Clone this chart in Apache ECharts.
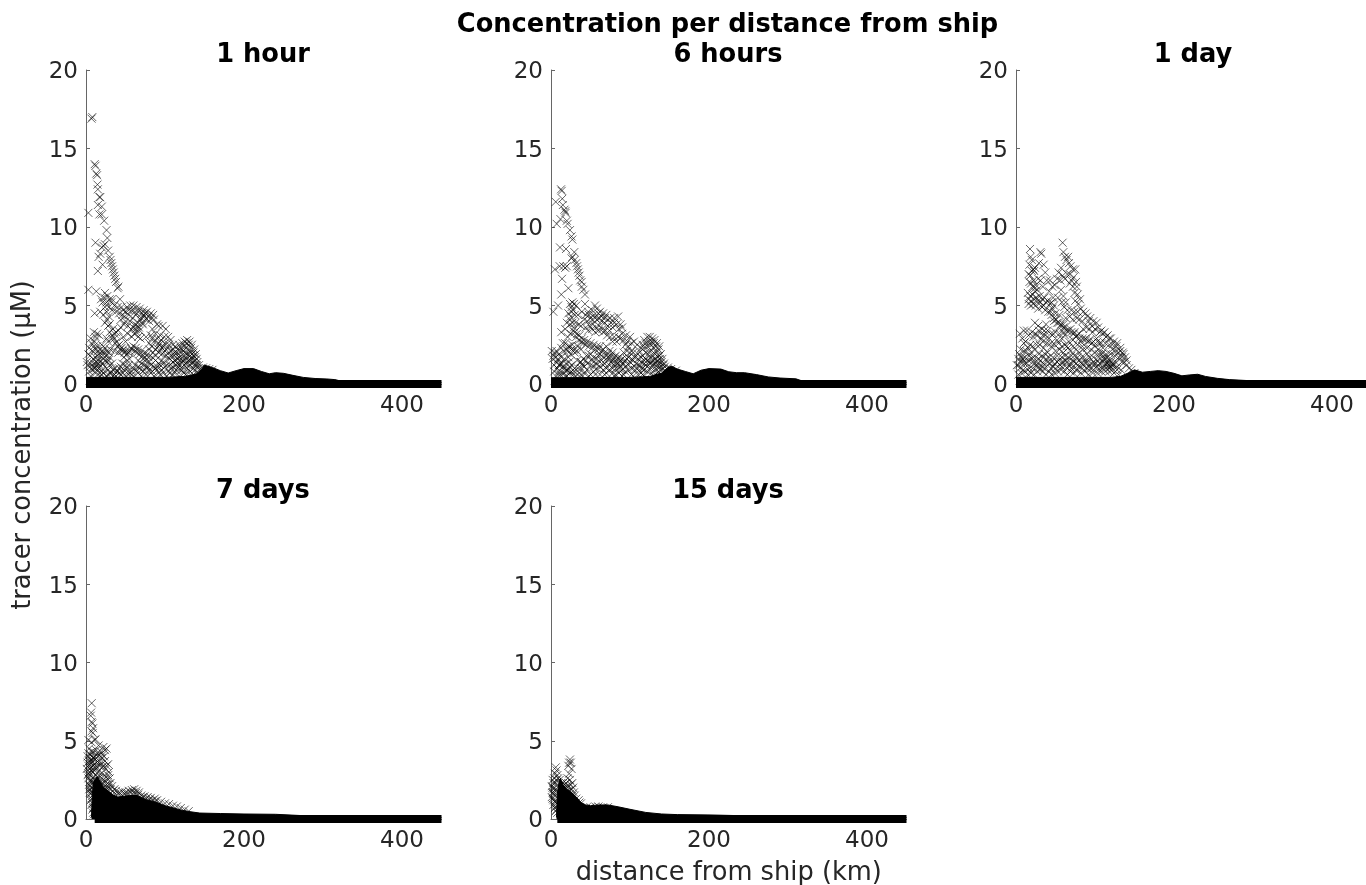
<!DOCTYPE html>
<html><head><meta charset="utf-8"><style>html,body{margin:0;padding:0;background:#fff}#c{width:1366px;height:885px}</style>
<script src="https://cdn.jsdelivr.net/npm/echarts@6/dist/echarts.min.js"></script></head><body><div id="c"></div><script>
const mainTitle='Concentration per distance from ship';
const panelTitles=['1 hour','6 hours','1 day','7 days','15 days'];
const xTicks=[0,200,400];
const yTicks=[0,5,10,15,20];
// [distance km, concentration µM]
const hour1=[[7,16.9],[8,17],[11,14],[12,13.9],[13,13.4],[14,13.3],[14.5,12.7],[15,12.4],[17,11.9],[18,11.9],[15,11.4],[20,11.3],[3,10.9],[17,10.8],[20,10.8],[23,10.4],[26,9.8],[27,9.3],[12,9],[24,8.9],[22,8.8],[20,8.7],[18,8.3],[16,8.1],[28,8.5],[30,8.1],[31,7.9],[32,7.7],[33,7.5],[34,7.3],[35,7.1],[36,6.9],[37,6.7],[38,6.5],[40,6.1],[41,6.2],[15,7.2],[21,7.6],[3,6],[13,5.9],[24,5.8],[27,5.6],[30,5.4],[33,5.4],[43,5.4],[32,5.2],
[21,5.2],[24,4.9],[18,4.6],[11,4.5],[22,4.4],[26,4.6],[29,4.3],[38,4.6],[42,4.5],[47,4.7],[52,4.9],[56,5],[60,5],[64,4.9],[68,4.8],[73,4.7],[77,4.6],[82,4.5],[85,4.4],
[44,4.1],[49,4.3],[54,4.4],[59,4.2],[63,4.4],[69,4.1],[74,4.3],[80,4],[86,4.1],[90,3.8],[24,3.9],[28,3.7],[48,3.8],[53,3.7],[57,3.5],[62,3.8],[67,3.6],[72,3.8],[84,3.5],[92,3.7],[97,3.7],[101,3.5],
[10,3.3],[14,3.2],[17,3.1],[6,2.9],[11,2.7],[30,3.3],[33,3.1],[36,2.9],[39,2.7],[42,2.5],[45,2.3],[47,2.2],[50,2.1],[53,3.2],[58,3],[61,3.2],[64,3.3],[66,3],[69,2.9],[76,3],[82,3.1],[88,3.2],[94,3.1],[99,3],[104,3],[107,2.8],[110,2.5],[26,2.9],[28,2.7],[36,3.2],[47,3],[50,2.7],
[4,2.3],[8,2.1],[3,1.9],[14,2.4],[20,2.5],[24,2.3],[31,2.2],[36,2.1],[41,2],[54,2],[57,2.3],[60,2.4],[63,2.3],[66,2.2],[70,2.1],[74,2],[78,1.9],[83,2.4],[88,2.2],[93,2.5],[98,2.4],[103,2.3],[108,2.1],[113,2.4],[118,2.5],[122,2.6],[125,2.7],[128,2.8],[131,2.7],[134,2.5],[137,2.2],[139,1.9],[112,2],[117,1.9],[123,2.1],[127,2.3],[132,2.1],
[1,1.4],[2,1.2],[6,1.3],[10,1.3],[13,1.4],[15,1.5],[18,1.5],[22,1.6],[26,1.8],[30,1.7],[33,1.3],[37,1],[44,1.1],[48,1.7],[52,1.5],[55,1.6],[60,1],[66,1.5],[72,1.6],[76,1.5],[80,1.4],[84,1.7],[88,1.5],[92,1.3],[96,1.5],[106,1.6],[110,1.4],[114,1.5],[118,1.7],[122,1.4],[126,1.6],[130,1.5],[134,1.6],[138,1.5],[141,1.4],[143,1.2],
[4,.8],[8,.9],[12,.7],[16,1],[20,.8],[24,1.1],[28,.9],[32,.7],[36,.6],[40,.8],[44,.6],[48,.9],[52,1],[56,.7],[60,.5],[64,.9],[68,1],[72,.8],[76,1.1],[80,.9],[84,.8],[88,1],[92,.7],[96,.9],[100,1.1],[104,.8],[108,1],[112,.7],[116,1],[120,.9],[124,.7],[128,1],[132,.8],[136,1],[140,.7],[6,.5],[18,.5],[26,.5],[34,.5],[50,.5],[70,.5],[86,.5],[102,.5],[118,.5],[134,.5]];
const hour1More=[[19,5.4],[23,5.5],[26,5.2],[29,4.9],[36,5],[33,4.7],[40,4.9],[45,4.9],[50,4.6],[54,4.7],[58,4.7],[62,4.6],[66,4.6],[71,4.5],[75,4.5],[79,4.3],[83,4.2],[60,3.6],[63,3.5],[66,3.9],[70,4.2],[73,4.4],[76,4.1],[71,3.9],[68,3.4],[65,3.7],[46,4.4],[50,4],[56,4],[44,3.6],[41,3.4],[38,3.3],[34,3.5],[30,3.8],[27,4.1],[33,2.9],[37,2.6],[40,2.4],[43,2.2],[46,2.1],[49,2],[52,1.9],[55,2.1],[58,2.2],[62,2.1],[65,2],[68,1.9],[72,1.8],[75,1.7],[79,1.7],[90,2.9],[95,2.8],[100,2.6],[105,2.5],[92,2.6],[96,2.3],[86,2.7],[80,2.6],[84,2.9],[10,2.4],[7,2.6],[12,3],[5,1.8],[9,1.6],[12,1.7],[16,1.9],[11,1],[14,1.2],[16,1.3],[18,1.1],[21,1.3],[24,1.5],[27,1.4],[30,1.2],[34,.9],[38,.8],[42,1],[46,1.3],[50,1.2],[54,1.2],[58,.8],[62,1.2],[66,1.1],[70,1.3],[74,1.2],[78,1.1],[82,1.2],[86,1.1],[90,1.1],[94,1.2],[98,1.3],[102,1.2],[106,1.2],[110,1.1],[114,1.2],[118,1.2],[122,1.1],[126,1.3],[130,1.2],[134,1.3],[138,1.2],[142,1],[116,2.2],[120,2.3],[124,2.4],[127,2.6],[130,2.5],[133,2.3],[136,2],[138,1.7],[140,1.6],[108,1.8],[112,1.8],[116,1.6],[120,1.6],[124,1.8],[128,1.9],[132,1.8],[136,1.8],[104,1.7],[100,1.8],[96,1.9],[92,2],[88,1.8],[145,1],[148,1.05],[152,1],[156,.95],[160,.9],[20,.6],[28,.6],[38,.5],[56,.5],[76,.6],[94,.6],[110,.6],[126,.6],
[5,1.1],[9,1.1],[13,1],[17,.7],[22,.7],[30,.7],[42,.7],[47,.7],[53,.8],[66,.7],[74,.9],[82,.7],[90,.9],[98,.7],[106,.7],[114,.9],[122,.9],[130,.9],[138,.9],[15,1.8],[20,1.9],[23,1.9],[28,1.5],[12,2.2],[15,2.1],[18,2.2],[22,2.1],[26,2.1],[29,2],[80,2.2],[85,2],[90,2.3],[95,2.2],[100,2.1],[105,2],[110,2.2],[115,2],[120,2.1],[125,2],[130,1.9],[134,1.9],[112,1.5],[116,1.3],[120,1.4],[124,1.5],[128,1.4],[132,1.5],[136,1.4],[140,1.2]];
const hour6=[[12.7,12.4],[13.5,12.3],[6,11.6],[14.3,11.8],[15,11.4],[17,11.1],[18,11],[18.5,10.9],[7.2,10.2],[12,10.5],[20,10.4],[21,10.2],[24,9.8],[26,9.4],[27,9.2],[11.4,8.7],[19,8.6],[29.5,8.4],[26,8],[27,8.1],[5,7.3],[11,7.5],[15.6,7.5],[18,7.4],[20,7.5],[30,7.9],[32,7.7],[33,7.5],[34,7.3],[35,7.1],[36,6.9],[37,6.6],[14,6.7],[38.8,6.5],[39,6.2],[41,6],[22,6.1],[13,5.7],[43,5.7],[9,5],[3,4.6],[27,5.2],[29,5.1],[32,5],[26,4.9],[43,5.1],
[22,4.5],[28,4.7],[25,4.3],[34,4.4],[39,4.6],[47,4.6],[52,4.7],[55.7,5],[58,4.8],[62,4.6],[66,4.5],[70,4.4],[75,4.2],[80,4.2],[85,4.3],[20,3.9],[24,3.8],[13,3.3],[18,3.5],[29,3.6],[42,4.1],[46,4],[50,4.2],[54,4.4],[58,4.1],[61,4.2],[64,4],[68,3.9],[72,3.7],[78,3.6],[83,3.8],[88,3.8],[90,3.6],[38,3.7],
[15,2.6],[21,3],[25,3.2],[30,3.3],[33,3.2],[36,3.1],[39,2.9],[42,2.8],[46,2.7],[50,2.6],[54,2.5],[58,2.4],[62,2.4],[47,3.4],[52,3.5],[56,3.3],[60,3.4],[66,3.3],[71,3.1],[75,3],[80,3],[85,3],[90,3.2],[95,3.1],[100,3],[105,2.7],[109,2.5],[118,2.8],[122,3],[125,3],[128,2.9],[131,2.8],[134,2.6],[137,2.4],[139,1.9],[141,1.6],[143,1.3],
[1,2.1],[3,1.8],[5,2],[7,2.1],[10,1.9],[13,1.7],[17,1.6],[21,2.1],[24,2.4],[27,2.5],[34,2.4],[38,2.2],[66,2.2],[70,2.4],[74,2.1],[78,2],[82,1.8],[86,1.7],[90,1.6],[94,2.5],[98,2.4],[102,2.1],[114,2.3],[118,2.3],[122,2.4],[126,2.5],[130,2.3],[134,2],[137,1.8],[110,1.9],[114,1.7],[118,1.5],[123,1.9],[128,1.8],[132,1.6],
[4,.8],[8,1],[11,1.2],[14,1.3],[17,1],[20,.9],[23,1.4],[26,1.2],[29,.8],[36,.7],[40,1.2],[44,1.5],[48,1.8],[52,1.5],[56,1.3],[60,1.8],[64,1.5],[68,1.3],[72,1.7],[76,1.4],[80,1.2],[84,1.3],[88,1.1],[92,1.3],[96,1.6],[100,1.4],[104,1.5],[108,1.3],[112,1.2],[116,1],[120,1.2],[125,1.3],[129,1.2],[134,1.2],[138,1.1],[142,1],[145,.8],
[6,.5],[12,.6],[18,.5],[24,.7],[31,.5],[36,.5],[42,.7],[46,.9],[50,.6],[54,.8],[58,1],[62,.6],[66,.9],[70,.7],[74,.9],[78,.7],[82,.6],[86,.7],[90,.5],[94,.8],[98,.9],[102,.6],[106,.9],[110,.6],[114,.7],[118,.5],[122,.8],[127,.7],[132,.6],[136,.8],[140,.6]];
const hour6More=[[24,5.1],[26,4.6],[30,4.4],[24,4.1],[27,3.9],[31,3.9],[35,3.8],[44,4.4],[48,4.4],[52,4.1],[56,4.2],[60,4.5],[64,4.3],[68,4.2],[72,4.1],[76,3.9],[80,3.9],[86,3.5],[44,3.6],[49,3.7],[53,3.8],[57,3.6],[61,3.7],[65,3.5],[69,3.4],[74,3.4],[28,3.4],[32,3],[35,2.8],[38,2.7],[41,2.6],[44,2.5],[48,2.4],[52,2.3],[56,2.2],[60,2.2],[64,2.1],[68,2],[72,1.9],[76,1.8],[80,1.7],[84,1.6],[88,1.5],[78,2.7],[83,2.7],[88,2.9],[92,2.8],[97,2.7],[102,2.6],[124,2.7],[127,2.7],[130,2.6],[133,2.4],[136,2.2],[120,2.6],[116,2.5],[112,2.1],[120,2],[125,2.1],[130,2],[134,1.8],[138,1.6],[140,1.4],[116,1.8],[120,1.6],[126,1.6],[130,1.5],[135,1.5],[2,1.6],[6,1.7],[9,1.6],[12,1.3],[15,1.1],[19,1.3],[22,1.7],[25,1.9],[29,2.2],[18,2.6],[20,2.2],[16,2.1],[13,2.3],[4,1.2],[7,1.4],[10,.8],[16,.7],[22,.9],[26,.8],[30,1],[34,1],[38,1],[42,1.1],[46,1.3],[50,1.2],[54,1.1],[58,1.3],[62,1.1],[66,1.2],[70,1],[74,1.2],[78,1],[82,1],[86,1],[90,.9],[94,1.1],[98,1.2],[102,1],[106,1.1],[110,1],[114,1],[118,.9],[122,1.1],[127,1],[132,.9],[136,1],[140,.9],[144,1.1],[148,1.05],[152,.95],[158,.85],[10,.6],[20,.5],[28,.6],[40,.5],[48,.5],[56,.6],[68,.6],[80,.5],[92,.6],[104,.5],[116,.6],[130,.5],
[33,1.5],[37,1.4],[41,1.6],[45,1.8],[50,1.9],[54,1.7],[58,1.6],[62,1.9],[66,1.7],[70,1.6],[74,1.6],[78,1.5],[82,1.4],[86,1.3],[90,1.3],[94,1.5],[98,1.7],[102,1.6],[106,1.7],[110,1.6],[114,1.4],[118,1.3],[122,1.5],[126,1.4],[130,1.3],[134,1.4],[138,1.3],[142,1.2],[22,2.4],[26,2.2],[30,2],[33,2.1],[10,1.2],[19,.8],[24,1.1],[38,1.4],[92,2],[96,2.1],[100,2],[104,2]];
const day1=[[17.7,8.6],[18.5,8.1],[31,8.4],[32,8.3],[29,7.7],[59,9],[60,8.4],[62,8.1],[64,7.9],[66,8.1],[67,7.7],[69,7.5],[20,7.9],[22,7.3],[23,7.2],[24,7.4],[16,7],[35,7.6],[37,7.1],[39,6.6],[54,7.1],[57,7.4],[72,7.3],[75,7.3],[73,6.8],[76,6.5],[52,6.7],[77,6.2],[78,5.7],[79,5.1],[81,5.4],[17,6.5],[19,6.4],[22,6.6],[25,6.3],[28,6.7],[31,6.6],[34,6.2],[43,6.6],[46,6.2],[49,6.3],[42,5.9],[57,6],[60,5.6],[53,5.5],[63,5.2],[68,6.4],[15,5.8],[18,5.6],[21,5.7],[24,5.9],[30,5.6],[36,5.5],[40,5.3],[47,5.5],
[16,5.1],[19,5],[22,5.1],[25,5],[28,4.8],[33,4.9],[37,4.7],[41,4.6],[44,4.6],[46,4.8],[50,4.5],[55,4.4],[82,4.8],[85,4.6],[88,4.5],[90,4.3],[94,4.2],[98,4],[102,3.9],[63,4.2],[68,4.3],[72,4.1],[77,4.2],[80,4.1],[84,4],[10,3.4],[14,3.4],[5,3.2],[8,2.9],[12,2.7],[24,3.9],[28,3.7],[33,3.5],[38,3.8],[48,4],[52,3.9],[56,3.7],[60,3.6],[64,3.4],[69,3.5],[74,3.3],[77,3.1],[80,3.2],[85,3.5],[89,3.6],[93,3.5],[97,3.3],[102,2.9],[106,3.3],[110,3.2],[114,3],[118,2.9],
[22,3],[27,3.1],[32,2.9],[37,3.1],[42,2.9],[47,3.2],[52,2.8],[58,2.9],[62,3.1],[67,2.7],[72,2.8],[82,2.7],[88,2.9],[93,2.8],[98,2.7],[103,2.7],[108,2.6],[113,2.6],[118,2.5],[122,2.5],[127,2.4],[132,2.3],[135,2],[138,1.7],[140,1.5],[-1,1.8],[3,1.6],[6,2.2],[10,2.1],[15,2.3],[19,2],[24,2.2],[29,1.9],[35,2.3],[40,2],[45,2.4],[50,2.1],[55,2.2],[60,2],[64,2.4],[69,2.1],[76,2.2],[80,2],[85,2.2],[90,1.9],[95,2.2],[100,2],[105,1.9],[110,2],[115,1.7],[120,1.9],[125,1.8],[130,1.7],[134,1.4],
[1,1.2],[5,1],[9,1.4],[13,1.3],[17,1],[21,1.4],[26,1.1],[31,1.5],[35,1.3],[38,1.6],[42,1.3],[47,1.1],[52,1.4],[56,1.2],[60,1.4],[63,1.5],[67,1.2],[72,1.5],[76,1.3],[80,1.5],[85,1.2],[90,1.4],[94,1],[98,1.4],[102,1.1],[106,1.3],[112,1.2],[116,1.3],[120,1.4],[124,1.2],[128,1.1],[133,.9],
[3,.6],[7,.7],[11,.8],[15,.6],[19,.7],[23,.6],[27,.8],[31,.9],[34,.8],[38,.6],[42,.8],[45,.6],[49,.7],[53,.8],[57,.9],[61,.8],[65,.6],[69,.8],[73,.7],[78,.9],[82,.7],[87,.8],[92,.6],[97,.7],[103,.7],[108,.8],[113,.8],[118,.8],[124,.7],[130,.6]];
const day1More=[[17,7.6],[20,7.2],[18,6.9],[21,6.2],[24,6.1],[27,6],[16,5.4],[19,5.3],[23,5.4],[26,5.5],[28,5.3],[31,5.2],[33,5.4],[35,5],[38,5.2],[43,5.1],[45,5.2],[48,5],[56,6.6],[59,6.9],[62,6.7],[65,7],[68,7],[70,6.6],[72,6.2],[74,5.8],[75,5.3],[58,5.2],[61,4.9],[65,4.7],[70,4.7],[74,4.6],[78,4.6],[45,4.4],[48,4.2],[51,4.1],[54,3.9],[57,3.8],[60,3.8],[62,3.6],[66,3.4],[70,3.3],[73,3.2],[76,3],[80,2.9],[84,2.9],[88,2.8],[92,2.7],[96,2.6],[100,2.4],[104,2.2],[108,1.9],[112,1.7],[116,1.4],[120,1.1],[122,1.2],[118,1.6],[114,1.9],[110,2.3],[106,2.6],[92,4],[96,3.7],[100,3.5],[104,3.6],[108,3.4],[112,3.3],[116,3.1],[120,2.9],[124,2.7],[128,2.6],[132,2.1],[136,1.9],[122,2.2],[126,2.1],[130,2],[134,1.7],[137,1.4],[140,1.2],[143,1],[146,.9],[150,.7],[10,2.6],[13,2.1],[7,1.7],[3,1.2],[6,1.4],[11,1.7],[17,1.8],[22,1.7],[26,2.5],[30,2.5],[34,2.7],[39,2.6],[44,2.6],[49,2.5],[54,2.6],[58,2.4],[62,2.5],[66,2.3],[72,2.4],[78,2.5],[84,2.4],[90,2.3],[28,1.6],[33,1.8],[37,1.9],[42,1.7],[47,1.7],[52,1.8],[58,1.7],[62,1.8],[66,1.7],[70,1.8],[74,1.8],[78,1.7],[83,1.7],[88,1.6],[93,1.7],[98,1.7],[103,1.5],[107,1.6],[112,1.6],[118,1],[9,.9],[15,.9],[21,1],[29,1.1],[36,1],[44,1],[50,1],[58,1.1],[65,1],[70,1],[76,.9],[84,1],[90,1],[96,1],[104,.9],[110,1],[114,1],[122,.9],[128,.9],
[4,1.9],[8,1.6],[12,1.4],[16,1.5],[20,1.6],[24,1.3],[28,1.3],[33,1.1],[40,1.4],[45,1.4],[49,1.3],[54,1.5],[58,1.4],[65,1.4],[70,1.3],[74,1.4],[78,1.2],[83,1.3],[87,1.4],[92,1.2],[96,1.3],[100,1.3],[104,1.2],[110,1.4],[114,1.3],[118,1.2],[122,1.3],[126,1.4],[18,2.5],[21,2.4],[16,3.1],[20,3.3],[24,3.2],[29,3.4],[34,3.1],[36,3.4],[40,3.4],[44,3.2],[50,3.3],[55,3.2],[60,3.3]];
const day7=[[7.2,7.4],[6.5,6.8],[6,6.6],[7.2,6.2],[8,6.1],[9,5.8],[7,5.6],[8.5,5.5],[11,5.05],[12,5.1],[3,5.05],[7,4.9],[16,4.7],[22,4.6],[24,4.4],[26,4.5],[19,4.3],[13,4.4],[4,4.5],[9,4.3],[2,4],[6,4.1],[11,4],[15,4],[20,3.9],[24,3.7],[28,3.5],[2,3.6],[5,3.5],[8,3.7],[13,3.6],[17,3.4],[21,3.3],[25,3.2],[29,3],[1,3.2],[4,3],[7,3.1],[11,3.1],[15,3],[19,2.9],[23,2.8],[27,2.6],[30,2.6],[3,2.6],[6,2.5],[9,2.6],[13,2.5],[17,2.4],[21,2.3],[26,2.2],[29,2.2],[33,2.1],[36,1.9],[4,2.2],[7,2],[10,2.1],[14,2],[18,1.9],[22,1.8],[5,1.7],[8,1.5],[10,1.6],[6,1.2],[8,1],[9,.7],[7,.9],
[38,1.8],[42,1.7],[46,1.75],[50,1.7],[54,1.8],[58,1.85],[61,1.9],[64,1.8],[67,1.7],[70,1.5],[74,1.45],[78,1.4],[82,1.35],[87,1.3],[90,1.2],[95,1.1],[100,1],[105,.95],[110,.85],[115,.8],[120,.7],[125,.6],[130,.5]];
const day7More=[[3,4.2],[5,3.9],[7,4.3],[10,3.9],[12,3.8],[14,4.2],[17,4.1],[21,4.1],[23,4],[6,3.7],[9,3.4],[11,3.5],[14,3.3],[16,3.6],[19,3.6],[22,3.4],[26,3.4],[3,3.4],[5,3.2],[8,3],[12,2.8],[15,2.7],[18,2.7],[22,2.5],[25,2.4],[28,2.8],[31,2.3],[2,2.8],[5,2.8],[7,2.4],[11,2.3],[15,2.2],[19,2.2],[24,2.1],[34,1.8],[37,1.6],[41,1.6],[45,1.55],[49,1.6],[53,1.65],[57,1.7],[60,1.7],[63,1.65],[66,1.55],[72,1.4],[76,1.3],[80,1.25],[84,1.2],[88,1.15],[5,2.1],[6,1.6],[7,1.3],[31,1.9],[28,2],[26,1.9],[4,3.7],[6,3.3],[9,3.9],[12,3.3],[3,2.9],[5,2.4],[8,2.3],[4,1.9],[6,1.9],[7,1.7],[8,.6],[9,.4],[10,.3]];
const day15=[[24,3.8],[23,3.6],[25,3.6],[22,3.4],[26,3.2],[6,3.3],[7,3.1],[5,2.9],[8,2.8],[4,2.6],[9,2.6],[11,2.5],[3,2.3],[23,2.9],[21,2.6],[27,2.3],[24,2.5],[28,2],[29,1.7],[26,1.9],[17,2.2],[15,2.3],[20,2.1],[13,2],[1,2.1],[2,1.7],[1,1.4],[3,1.2],[18,1.7],[23,1.8],[32,1.3],[35,1.2],[38,1],[36,1.05],[3,.9],[5,.7],[6,.5],
[2,2.5],[5,2.3],[7,2.5],[4,2],[6,1.9],[3,1.6],[5,1.5],[6,1.2],[7,1],[13,2.3],[16,2],[19,2.3],[22,2.1],[25,2.2],[21,1.8],[24,1.6],[27,1.5],[30,1.5],[45,.75],[50,.75],[56,.8],[60,.8],[66,.75],[72,.75],[2,2],[3,1.9],[4,1.7],[2,1.3],[5,1.1],[6,.8],[7,.6],[8,.4]];
// visible top of the solid overplotted band [distance km, µM]
const hour1Band=[[0,.42],[100,.42],[125,.48],[140,.65],[146,.9],[150,1.2],[160,1.05],[170,.85],[180,.7],[190,.85],[200,.98],[212,.98],[222,.8],[232,.65],[240,.72],[250,.68],[262,.55],[275,.42],[290,.35],[305,.32],[315,.28],[325,.16],[340,.1],[450,.1]];
const hour6Band=[[0,.4],[100,.42],[125,.48],[140,.7],[147,1],[152,1.15],[160,.95],[170,.8],[180,.65],[190,.88],[200,.98],[215,.95],[225,.78],[235,.72],[245,.72],[260,.6],[275,.45],[290,.38],[310,.33],[320,.16],[340,.1],[450,.1]];
const day1Band=[[0,.42],[120,.42],[132,.48],[142,.7],[150,.9],[160,.75],[170,.8],[180,.85],[190,.8],[200,.68],[210,.52],[220,.58],[230,.62],[240,.48],[255,.36],[270,.28],[300,.2],[320,.14],[340,.1],[450,.1]];
const day7Band=[[7,.1],[8,1.6],[10,2.4],[14,2.7],[18,2.4],[22,2],[28,1.8],[34,1.55],[40,1.4],[55,1.5],[65,1.5],[75,1.25],[90,1.05],[100,.85],[110,.72],[120,.58],[130,.48],[144,.38],[170,.35],[200,.32],[240,.3],[280,.2],[320,.15],[450,.1]];
const day15Band=[[7,.1],[8,1.6],[10,2.3],[12,2.6],[15,2.2],[20,1.9],[26,1.7],[32,1.4],[38,1.05],[44,.9],[50,.85],[60,.9],[72,.9],[85,.78],[100,.62],[120,.42],[140,.32],[160,.28],[200,.26],[250,.2],[320,.14],[450,.1]];
const bandStarts=[0,0,0,11,8];
const xEnd=450;

const values=[hour1.concat(hour1More),hour6.concat(hour6More),day1.concat(day1More),day7.concat(day7More),day15];
const bands=[hour1Band,hour6Band,day1Band,day7Band,day15Band];
const lefts=[86,551,1016,86,551];
const tops=[70,70,70,506,506];
const cross='path://M0 0L10 10M0 10L10 0';
const ink='#262626';
const font='DejaVu Sans';
const grid=[],xAxis=[],yAxis=[],series=[];
const title=[{text:mainTitle,left:722.5,top:7,textAlign:'center',textStyle:{fontFamily:font,fontSize:25.7,fontWeight:'bold',color:'#000'}}];
panelTitles.forEach((t,i)=>{
  grid.push({left:lefts[i],top:tops[i],width:355.5,height:i<3?314:313,containLabel:false,outerBoundsMode:'none'});
  title.push({text:t,left:lefts[i]+172,top:tops[i]-33,textAlign:'center',textStyle:{fontFamily:font,fontSize:25.7,fontWeight:'bold',color:'#000'}});
  xAxis.push({gridIndex:i,type:'value',min:0,max:xEnd,
    name:i===4?'distance from ship (km)':'',nameLocation:'middle',nameGap:41,nameTextStyle:{fontFamily:font,fontSize:25.7,color:ink},
    axisLine:{show:true,lineStyle:{color:'#666',width:1}},
    axisTick:{show:true,inside:true,length:4,customValues:xTicks,lineStyle:{color:'#666'}},
    axisLabel:{customValues:xTicks,fontFamily:font,fontSize:23,color:ink,margin:11,hideOverlap:false},
    splitLine:{show:false}});
  yAxis.push({gridIndex:i,type:'value',min:0,max:20,interval:5,
    axisLine:{show:true,lineStyle:{color:'#666',width:1}},
    axisTick:{show:true,inside:true,length:4,lineStyle:{color:'#666'}},
    axisLabel:{margin:8,formatter:'{t|{value}}',rich:{t:{fontFamily:font,fontSize:23,color:ink,padding:[5,0,0,0]}}},
    splitLine:{show:false}});
  series.push({type:'line',xAxisIndex:i,yAxisIndex:i,data:bands[i],showSymbol:false,silent:true,clip:false,
    lineStyle:{color:'#000',width:1},areaStyle:{color:'#000',opacity:1},z:2});
  series.push({type:'line',xAxisIndex:i,yAxisIndex:i,data:[[bandStarts[i],0],[xEnd,0]],showSymbol:false,silent:true,clip:false,
    lineStyle:{color:'#000',width:8,cap:'butt'},z:3});
  series.push({type:'scatter',xAxisIndex:i,yAxisIndex:i,data:values[i],symbol:cross,symbolSize:8,silent:true,
    itemStyle:{color:'none',borderColor:'rgba(0,0,0,0.75)',borderWidth:1},z:4});
});
const chart=echarts.init(document.getElementById('c'),null,{renderer:'canvas'});
chart.setOption({animation:false,backgroundColor:'#fff',title,grid,xAxis,yAxis,series,
  graphic:[{type:'text',x:23,y:445,rotation:Math.PI/2,style:{text:'tracer concentration (µM)',fontFamily:font,fontSize:25.7,fill:ink,textAlign:'center',textVerticalAlign:'middle'}}]});
</script></body></html>
